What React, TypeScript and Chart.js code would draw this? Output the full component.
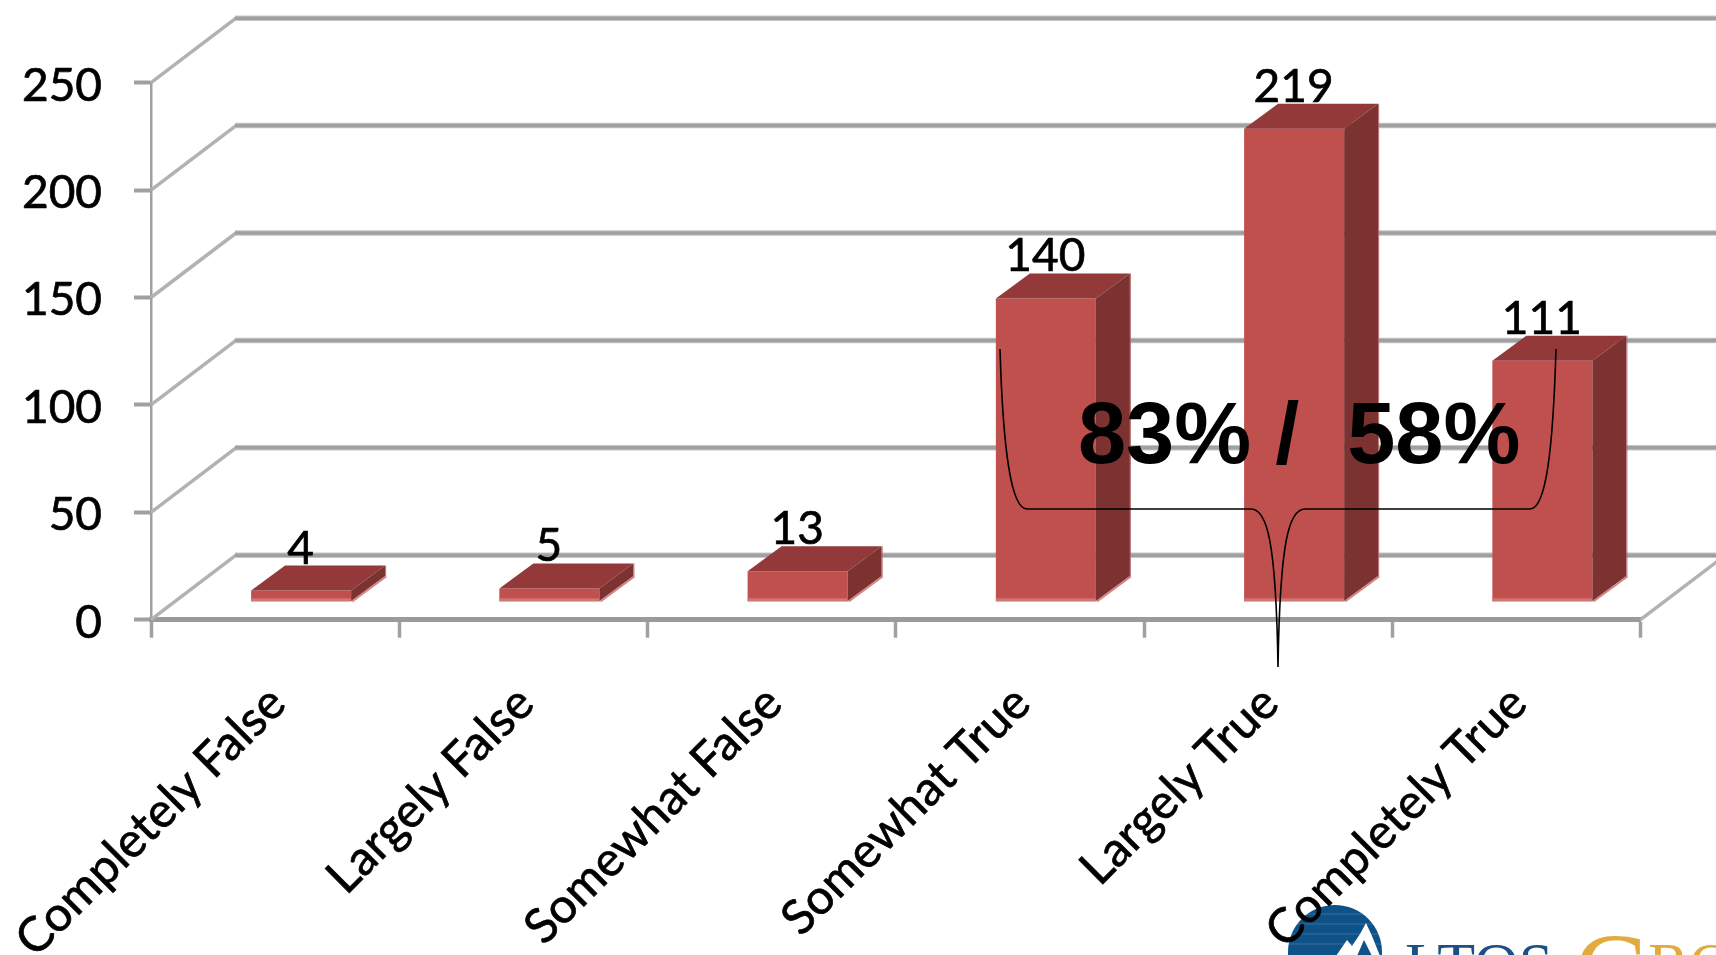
import React, { useEffect, useRef } from "react";
import { Chart, registerables } from "chart.js";

Chart.register(...registerables);

const categories = ["Completely False", "Largely False", "Somewhat False", "Somewhat True", "Largely True", "Completely True"];
const responses = [4, 5, 13, 140, 219, 111];
const yTicks = [0, 50, 100, 150, 200, 250];
const annotationText = "83% /  58%";

const FONT = "Lato, 'Open Sans', sans-serif";
const W = 1716, H = 955;
const DEPTH_X = 85, DEPTH_Y = 64.5;
const BAR_DX = 26, BAR_DY = -20.5, BAR_DEPTH_X = 34, BAR_DEPTH_Y = 25;

const backdrop = {
  id: "backdrop",
  beforeDraw(chart: any) {
    const c = chart.ctx;
    c.save();
    c.fillStyle = "#ffffff";
    c.fillRect(0, 0, W, H);
    // logo, cropped by the page's lower edge
    c.fillStyle = "#0f5288";
    c.beginPath();
    c.arc(1335, 952, 47, 0, Math.PI * 2);
    c.fill();
    c.strokeStyle = "rgba(255,255,255,0.18)";
    c.lineWidth = 1;
    for (const y of [914, 924, 934, 944]) {
      c.beginPath(); c.moveTo(1285, y); c.lineTo(1382, y); c.stroke();
    }
    c.fillStyle = "#ffffff";
    c.beginPath();
    c.moveTo(1336, 956);
    c.lineTo(1347, 940);
    c.lineTo(1352, 946);
    c.lineTo(1360, 934);
    c.lineTo(1366, 923);
    c.lineTo(1372, 936);
    c.lineTo(1380, 956);
    c.closePath();
    c.fill();
    c.fillStyle = "#0f5288";
    c.beginPath();
    c.moveTo(1357, 956); c.lineTo(1364, 940); c.lineTo(1372, 956); c.closePath();
    c.fill();
    c.textBaseline = "alphabetic";
    c.textAlign = "left";
    c.font = "62px 'Liberation Serif', serif";
    c.fillStyle = "#1c4f85";
    c.fillText("LTOS", 1405, 985);
    c.fillStyle = "#e2ab3e";
    c.font = "108px 'Liberation Serif', serif";
    c.fillText("G", 1574, 1008);
    c.font = "62px 'Liberation Serif', serif";
    c.fillText("RO", 1648, 985);
    c.restore();
  },
  beforeDatasetsDraw(chart: any) {
    const c = chart.ctx;
    const { x, y } = chart.scales;
    c.save();
    c.lineJoin = "miter";
    for (const v of yTicks) {
      const py = y.getPixelForValue(v);
      const bx = x.left + DEPTH_X, by = py - DEPTH_Y;
      c.strokeStyle = "#b2b2b2";
      c.lineWidth = 3.5;
      c.beginPath(); c.moveTo(x.left, py); c.lineTo(bx, by); c.stroke();
      c.strokeStyle = "#c6c6c6";
      c.lineWidth = 5.5;
      c.beginPath(); c.moveTo(bx - 1, by); c.lineTo(W, by); c.stroke();
      c.strokeStyle = "#a0a0a0";
      c.lineWidth = 3.5;
      c.beginPath(); c.moveTo(bx - 1, by); c.lineTo(W, by); c.stroke();
    }
    const fy = y.getPixelForValue(0);
    c.strokeStyle = "#b2b2b2";
    c.lineWidth = 3.5;
    c.beginPath(); c.moveTo(x.right, fy); c.lineTo(x.right + DEPTH_X, fy - DEPTH_Y); c.stroke();
    c.restore();
  },
  beforeDatasetDraw(chart: any) {
    chart.ctx.save();
    chart.ctx.translate(BAR_DX, BAR_DY);
  },
  afterDatasetDraw(chart: any, args: any) {
    const c = chart.ctx;
    const els = args.meta.data;
    for (const el of els) {
      const l = el.x - el.width / 2, r = el.x + el.width / 2, t = el.y, b = el.base;
      // lower light rim of the front face
      c.fillStyle = "#d17875";
      c.fillRect(l, b - 3, el.width, 3);
      // top face
      c.fillStyle = "#93393a";
      c.beginPath();
      c.moveTo(l, t); c.lineTo(l + BAR_DEPTH_X, t - BAR_DEPTH_Y); c.lineTo(r + BAR_DEPTH_X, t - BAR_DEPTH_Y); c.lineTo(r, t);
      c.closePath(); c.fill();
      // side face
      c.fillStyle = "#7b3230";
      c.beginPath();
      c.moveTo(r, t); c.lineTo(r + BAR_DEPTH_X, t - BAR_DEPTH_Y); c.lineTo(r + BAR_DEPTH_X, b - BAR_DEPTH_Y); c.lineTo(r, b);
      c.closePath(); c.fill();
      // light rim of the side face
      c.strokeStyle = "#cf8886";
      c.lineWidth = 2;
      c.beginPath();
      c.moveTo(r + 1, b); c.lineTo(r + BAR_DEPTH_X + 1, b - BAR_DEPTH_Y);
      c.stroke();
      c.strokeStyle = "#b06a68";
      c.lineWidth = 1;
      c.beginPath();
      c.moveTo(r + BAR_DEPTH_X + 0.5, b - BAR_DEPTH_Y); c.lineTo(r + BAR_DEPTH_X + 0.5, t - BAR_DEPTH_Y);
      c.stroke();
    }
    c.restore();
    // value labels over the back edge of each bar
    c.save();
    c.font = `46px ${FONT}`;
    c.fillStyle = "#000000";
    c.strokeStyle = "#000000";
    c.lineWidth = 0.7;
    c.textAlign = "center";
    c.textBaseline = "alphabetic";
    els.forEach((el: any, i: number) => {
      const lx = el.x + BAR_DX - 0.5, ly = el.y + BAR_DY - BAR_DEPTH_Y - 2;
      c.fillText(String(responses[i]), lx, ly);
      c.strokeText(String(responses[i]), lx, ly);
    });
    c.restore();
  },
  afterDatasetsDraw(chart: any) {
    const c = chart.ctx;
    c.save();
    // bracket
    c.strokeStyle = "#000000";
    c.lineWidth = 1.6;
    c.beginPath();
    c.moveTo(1000, 349);
    c.bezierCurveTo(1003, 450, 1011, 509, 1027, 509);
    c.lineTo(1251, 509);
    c.bezierCurveTo(1267, 509, 1276, 540, 1278, 667);
    c.bezierCurveTo(1280, 540, 1289, 509, 1305, 509);
    c.lineTo(1530, 509);
    c.bezierCurveTo(1546, 509, 1553, 450, 1556, 349);
    c.stroke();
    c.font = "bold 86.5px 'Liberation Sans', Arial, sans-serif";
    c.fillStyle = "#000000";
    c.textAlign = "left";
    c.textBaseline = "alphabetic";
    c.fillText(annotationText, 1078, 463);
    c.restore();
  },
};

export default function App() {
  const ref = useRef<HTMLCanvasElement | null>(null);
  useEffect(() => {
    document.body.style.margin = "0";
    document.body.style.background = "#ffffff";
    const chart = new Chart(ref.current as HTMLCanvasElement, {
      type: "bar",
      plugins: [backdrop],
      data: {
        labels: categories,
        datasets: [
          {
            label: "Responses",
            data: responses,
            base: -1,
            backgroundColor: "#c0504d",
            borderWidth: 0,
            barPercentage: 1,
            categoryPercentage: 0.403,
            clip: false,
          } as any,
        ],
      },
      options: {
        animation: false,
        responsive: false,
        devicePixelRatio: 1,
        layout: { autoPadding: false, padding: { left: 0, top: 82.7, right: 75.5, bottom: 0 } },
        plugins: { legend: { display: false }, title: { display: false }, tooltip: { enabled: false } },
        scales: {
          x: {
            afterFit: (s: any) => { s.height = H - 619.7; s.paddingLeft = 0; s.paddingRight = 0; },
            border: { color: "#9a9a9a", width: 5 },
            grid: { drawOnChartArea: false, drawTicks: true, tickLength: 18, tickColor: "#a0a0a0", tickWidth: 3.5 },
            ticks: {
              autoSkip: false,
              maxRotation: 45,
              minRotation: 45,
              padding: 37,
              labelOffset: 2,
              color: "#000000",
              textStrokeColor: "#000000",
              textStrokeWidth: 0.7,
              font: { family: FONT, size: 48 },
            },
          },
          y: {
            min: 0,
            max: 250,
            afterFit: (s: any) => { s.width = 151; s.paddingTop = 0; s.paddingBottom = 0; },
            afterBuildTicks: (s: any) => { s.ticks = yTicks.map((value) => ({ value })); },
            border: { color: "#a0a0a0", width: 2.5 },
            grid: { drawOnChartArea: false, drawTicks: true, tickLength: 17, tickColor: "#a0a0a0", tickWidth: 4 },
            ticks: {
              padding: 32,
              labelOffset: 3,
              color: "#000000",
              textStrokeColor: "#000000",
              textStrokeWidth: 0.7,
              font: { family: FONT, size: 46 },
            },
          },
        },
      },
    } as any);
    return () => chart.destroy();
  }, []);
  return (
    <div style={{ position: "absolute", left: 0, top: 0, width: W, height: H, overflow: "hidden" }}>
      <canvas ref={ref} width={W} height={H} style={{ display: "block", width: W, height: H }} />
    </div>
  );
}
